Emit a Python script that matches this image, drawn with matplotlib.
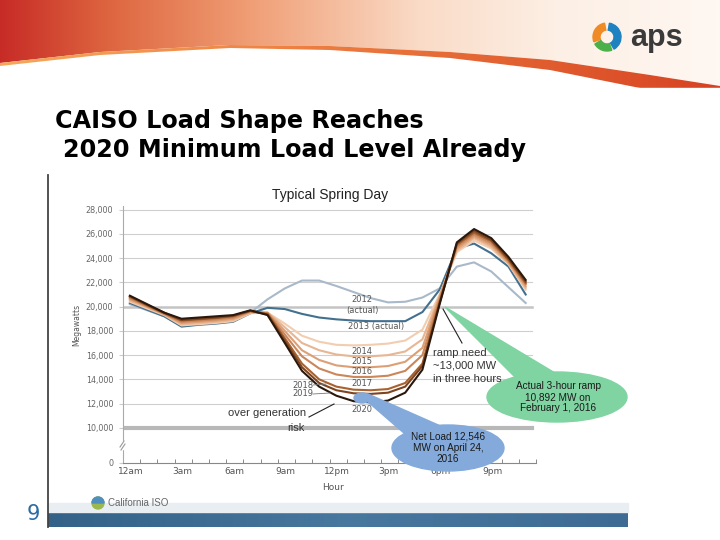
import numpy as np
import matplotlib.pyplot as plt
from matplotlib.patches import Ellipse, Polygon, Circle, Wedge, Rectangle

# hourly net load (MW), typical spring day
hours = np.arange(24) + 0.4
load_2012 = [20200, 19700, 19200, 18400, 18550, 18650, 18800, 19500, 20600, 21500, 22150, 22150,
             21700, 21200, 20700, 20350, 20400, 20750, 21500, 23300, 23650, 22900, 21600, 20300]
load_2013 = [20300, 19750, 19200, 18350, 18500, 18600, 18750, 19450, 19900, 19800, 19400, 19100,
             18950, 18850, 18800, 18800, 18800, 19550, 21400, 24800, 25200, 24400, 23300, 21000]
load_2014 = [20400, 19850, 19300, 18450, 18550, 18650, 18800, 19450, 19500, 18600, 17600, 17100,
             16850, 16800, 16850, 16950, 17200, 18100, 21000, 24500, 25450, 24800, 23500, 21400]
load_2015 = [20500, 19950, 19350, 18550, 18650, 18750, 18900, 19500, 19500, 18300, 17000, 16400,
             16050, 15900, 15900, 16000, 16300, 17300, 20900, 24650, 25650, 24950, 23550, 21550]
load_2016 = [20600, 20000, 19400, 18650, 18750, 18850, 19000, 19550, 19500, 18000, 16400, 15600,
             15150, 15000, 15000, 15100, 15450, 16600, 20800, 24800, 25800, 25100, 23650, 21700]
load_2017 = [20700, 20050, 19400, 18750, 18850, 18950, 19100, 19600, 19450, 17700, 15900, 14900,
             14400, 14200, 14200, 14300, 14700, 16000, 20600, 24950, 25950, 25250, 23750, 21850]
load_2018 = [20800, 20100, 19450, 18850, 18950, 19050, 19200, 19650, 19400, 17400, 15300, 14000,
             13400, 13150, 13100, 13200, 13700, 15300, 20400, 25100, 26100, 25400, 23850, 21950]
load_2019 = [20850, 20150, 19500, 18900, 19000, 19100, 19250, 19650, 19350, 17200, 15000, 13700,
             13100, 12850, 12800, 12900, 13400, 15100, 20300, 25200, 26250, 25500, 23950, 22050]
load_2020 = [20900, 20200, 19500, 19000, 19100, 19200, 19300, 19700, 19300, 17000, 14700, 13400,
             12650, 12200, 12100, 12250, 12900, 14800, 20200, 25300, 26400, 25650, 24100, 22200]

years = ["2012", "2013", "2014", "2015", "2016", "2017", "2018", "2019", "2020"]
series = [load_2012, load_2013, load_2014, load_2015, load_2016,
          load_2017, load_2018, load_2019, load_2020]
colors = ["#a9b9c9", "#43708f", "#f2cdb0", "#e8b692", "#dc9f76", "#cb865a",
          "#a8622f", "#7c4420", "#2b180c"]

hour_ticks = [0, 3, 6, 9, 12, 15, 18, 21]
hour_labels = ["12am", "3am", "6am", "9am", "12pm", "3pm", "6pm", "9pm"]
mw_ticks = list(range(10000, 28001, 2000))
mw_labels = [f"{v:,}" for v in mw_ticks]
BREAK = 7100  # where the "0" of the broken axis sits

fig = plt.figure(figsize=(7.2, 5.4), dpi=100)

# ---- slide background (pixel coords) ----
bg = fig.add_axes([0, 0, 1, 1], zorder=0)
bg.set_xlim(0, 720)
bg.set_ylim(540, 0)
bg.axis("off")

px = np.linspace(0, 720, 720)
stops_x = [0, 110, 250, 420, 560, 720]
stops_c = np.array([[0.78, 0.17, 0.15], [0.87, 0.40, 0.25], [0.94, 0.62, 0.46],
                    [0.98, 0.86, 0.78], [0.99, 0.94, 0.90], [1.0, 0.97, 0.95]])
grad = np.stack([np.interp(px, stops_x, stops_c[:, k]) for k in range(3)], axis=-1)
img = bg.imshow(np.repeat(grad[None], 10, axis=0), extent=[0, 720, 100, 0], aspect="auto", zorder=0)
cx = [0, 100, 230, 330, 450, 550, 650, 720]
cy = [63, 52, 45, 46, 52, 60, 75, 86]
top_poly = Polygon(list(zip(cx, cy)) + [(720, 0), (0, 0)], closed=True, transform=bg.transData)
img.set_clip_path(top_poly)

band_c = np.stack([np.interp(px, [0, 300, 550, 720], [0.96, 0.93, 0.88, 0.84]),
                   np.interp(px, [0, 300, 550, 720], [0.66, 0.50, 0.36, 0.26]),
                   np.interp(px, [0, 300, 550, 720], [0.36, 0.26, 0.18, 0.14])], axis=-1)
img2 = bg.imshow(np.repeat(band_c[None], 10, axis=0), extent=[0, 720, 110, 0], aspect="auto", zorder=1)
ly = [66, 55, 48, 50, 58, 70, 90, 102]
band_poly = Polygon(list(zip(cx, cy)) + list(zip(cx[::-1], ly[::-1])), closed=True, transform=bg.transData)
img2.set_clip_path(band_poly)
bg.add_patch(Rectangle((628, 88), 92, 30, color="white", zorder=2))

# aps logo
bg.add_patch(Wedge((607, 37), 14, 160, 260, width=7, color="#f08a24", zorder=3))
bg.add_patch(Wedge((607, 37), 14, -80, 60, width=7, color="#1f82c0", zorder=3))
bg.add_patch(Wedge((607, 37), 14, 70, 150, width=7, color="#4cb04a", zorder=3))
bg.text(656, 38, "aps", fontsize=22, fontweight="bold", color="#3a3a3a",
        ha="center", va="center", family="Liberation Sans", zorder=3)

# slide title
bg.text(55, 121, "CAISO Load Shape Reaches", fontsize=17.2, fontweight="bold",
        ha="left", va="center", family="DejaVu Sans")
bg.text(63, 150, "2020 Minimum Load Level Already", fontsize=17.2, fontweight="bold",
        ha="left", va="center", family="DejaVu Sans")

# footer
bg.plot([48, 48], [175, 527], color="#444444", lw=1.3, zorder=3)
foot = np.stack([np.interp(px[:580], [0, 300, 580], [0.20, 0.28, 0.24]),
                 np.interp(px[:580], [0, 300, 580], [0.38, 0.47, 0.42]),
                 np.interp(px[:580], [0, 300, 580], [0.53, 0.62, 0.58])], axis=-1)
bg.imshow(np.repeat(foot[None], 4, axis=0), extent=[48, 628, 527, 512], aspect="auto", zorder=1)
bg.add_patch(Rectangle((48, 503), 580, 9, color="#e8eef2", zorder=1))
bg.text(33, 514, "9", fontsize=15, color="#2b6ca3", ha="center", va="center")
bg.add_patch(Circle((98, 503), 6, color="#9bb84e", zorder=3))
bg.add_patch(Wedge((98, 503), 6, 180, 360, color="#4f8fc0", zorder=3))
bg.text(108, 503, "California ISO", fontsize=7, color="#666666", ha="left", va="center",
        family="Liberation Sans", zorder=3)

# ---- chart ----
ax = fig.add_axes([123 / 720, (540 - 463) / 540, (536 - 123) / 720, (463 - 206) / 540], zorder=2)
ax.set_facecolor("white")
for v in mw_ticks:
    lw, c = 0.8, "#cfcfcf"
    if v == 20000:
        lw, c = 1.8, "#c4c4c4"
    if v == 10000:
        lw, c = 3.0, "#b8b8b8"
    ax.axhline(v, xmax=0.99, color=c, lw=lw, zorder=1)

for yr, vals, c in zip(years, series, colors):
    ax.plot(hours, vals, color=c, lw=1.5, zorder=3, solid_joinstyle="round")

ax.set_xlim(0, 24)
ax.set_ylim(BREAK, 28300)
# labels sit a little right of the hour ticks, as in the original
ax.set_xticks([h + 0.45 for h in hour_ticks], hour_labels)
ax.set_xticks(range(25), minor=True)
ax.set_yticks([BREAK] + mw_ticks, ["0"] + mw_labels)
ax.tick_params(axis="x", which="major", length=0, labelsize=6.5, labelcolor="#555555", pad=3)
ax.tick_params(axis="x", which="minor", direction="in", length=3, color="#777777")
ax.tick_params(axis="y", length=3, color="#cccccc", labelsize=5.8, labelcolor="#666666", pad=4)
for s in ["top", "right"]:
    ax.spines[s].set_visible(False)
ax.spines["left"].set_color("#aaaaaa")
ax.spines["left"].set_linewidth(0.8)
ax.spines["bottom"].set_color("#888888")
ax.spines["bottom"].set_linewidth(0.8)

# ---- overlay annotations (pixel coords) ----
ov = fig.add_axes([0, 0, 1, 1], zorder=3)
ov.set_xlim(0, 720)
ov.set_ylim(540, 0)
ov.axis("off")
ov.patch.set_alpha(0)

ov.text(330, 195, "Typical Spring Day", fontsize=10, color="#222222", ha="center", va="center",
        family="Liberation Sans")
ov.text(77, 325, "Megawatts", fontsize=5.5, color="#555555", rotation=90, ha="center", va="center")
ov.text(333, 488, "Hour", fontsize=6.5, color="#555555", ha="center", va="center")

# broken axis mark
ov.add_patch(Rectangle((119, 441), 8, 8, color="white", zorder=4))
ov.plot([120, 124], [447, 441], color="#999999", lw=0.8, zorder=5)
ov.plot([121, 125], [450, 444], color="#999999", lw=0.8, zorder=5)

# callouts
green = "#7fd4a2"
ov.add_patch(Polygon([(445, 307), (555, 373), (520, 382)], color=green, zorder=4))
ov.add_patch(Ellipse((557, 397), 140, 50, color=green, zorder=4))
ov.text(558, 397, "Actual 3-hour ramp\n10,892 MW on\nFebruary 1, 2016", fontsize=7.2,
        color="#1a1a1a", ha="center", va="center", family="Liberation Sans", zorder=8,
        linespacing=1.15)

blue = "#84aadb"
ov.add_patch(Ellipse((362, 398), 16, 10, color=blue, zorder=4))
ov.add_patch(Polygon([(360, 395), (368, 394), (445, 428), (412, 440)], color=blue, zorder=4))
ov.add_patch(Ellipse((448, 448), 112, 46, color=blue, zorder=4))
ov.text(448, 448, "Net Load 12,546\nMW on April 24,\n2016", fontsize=7.2, color="#1a1a1a",
        ha="center", va="center", family="Liberation Sans", zorder=8, linespacing=1.15)

lab = dict(fontsize=6, color="#555555", ha="center", va="center", zorder=8)
ov.text(362, 300, "2012", **lab)
ov.text(362, 311, "(actual)", **lab)
ov.text(376, 327, "2013 (actual)", **lab)
ov.text(362, 351, "2014", **lab)
ov.text(362, 361, "2015", **lab)
ov.text(362, 372, "2016", **lab)
ov.text(362, 383, "2017", **lab)
ov.text(362, 409, "2020", **lab)
ov.text(303, 385, "2018", **lab)
ov.text(303, 394, "2019", **lab)
ov.plot([313, 326], [385, 384], color="#777777", lw=0.6, zorder=8)
ov.plot([313, 330], [394, 393], color="#777777", lw=0.6, zorder=8)

note = dict(fontsize=8.0, color="#333333", family="Liberation Sans", zorder=8)
ov.text(433, 366, "ramp need\n~13,000 MW\nin three hours", ha="left", va="center",
        linespacing=1.35, **note)
ov.plot([443, 462], [309, 343], color="#222222", lw=0.8, zorder=8)
ov.text(228, 413, "over generation", ha="left", va="center", **note)
ov.text(305, 428, "risk", ha="right", va="center", **note)
ov.plot([309, 334], [417, 404], color="#222222", lw=0.8, zorder=8)

fig.savefig("out.png", dpi=100)
